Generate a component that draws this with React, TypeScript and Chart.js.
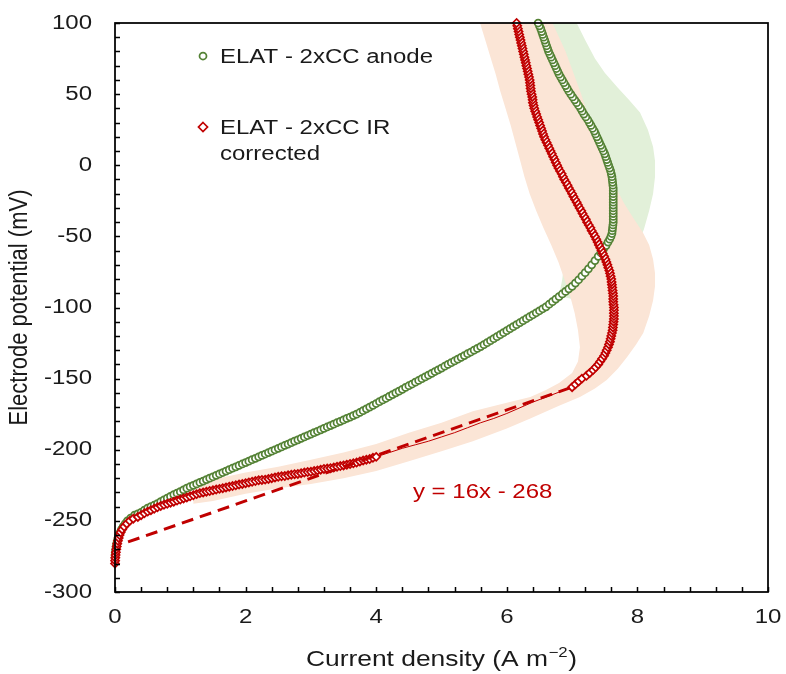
import { useEffect, useRef } from "react";
import { Chart, registerables } from "chart.js";

Chart.register(...registerables);

const FONT = '"Liberation Sans", Arial, sans-serif';
const INK = "#1a1a1a";
const GREEN = "#548235";
const RED = "#C00000";
const GREEN_BAND = "#E2F0D9";
const PINK_BAND = "#FBE5D6";
// all labels are set slightly wide
const TEXT_SX = 1.2;

const X_MIN = 0;
const X_MAX = 10;
const Y_MIN = -300;
const Y_MAX = 100;
const xTickLabels = [0, 2, 4, 6, 8, 10];
const yTickLabels = [100, 50, 0, -50, -100, -150, -200, -250, -300];

// ELAT - 2xCC anode: current density (A m-2) and electrode potential (mV)
const greenJ = [
  0.0, 0.003, 0.007, 0.012, 0.018, 0.025, 0.035, 0.047, 0.06, 0.08, 0.1, 0.125, 0.155, 0.19, 0.24, 0.3, 0.35,
  0.4, 0.45, 0.5, 0.55, 0.6, 0.65, 0.7, 0.75, 0.8, 0.85, 0.9, 0.95, 1.0, 1.05,
  1.1, 1.15, 1.2, 1.25, 1.3, 1.35, 1.4, 1.45, 1.5, 1.55, 1.6, 1.65, 1.7, 1.75, 1.8, 1.85, 1.9, 1.95,
  2.0, 2.05, 2.1, 2.15, 2.2, 2.25, 2.3, 2.35, 2.4, 2.45, 2.5, 2.55, 2.6, 2.65, 2.7, 2.75, 2.8, 2.85, 2.9, 2.95,
  3.0, 3.05, 3.1, 3.15, 3.2, 3.25, 3.3, 3.35, 3.4, 3.45, 3.5, 3.55, 3.6, 3.65, 3.7,
  3.75, 3.8, 3.85, 3.9, 3.95, 4.0, 4.05, 4.1, 4.15, 4.2, 4.25, 4.3, 4.35, 4.4, 4.45, 4.5,
  4.55, 4.6, 4.65, 4.7, 4.75, 4.8, 4.85, 4.9, 4.95, 5.0, 5.05, 5.1, 5.15, 5.2, 5.25, 5.3, 5.35, 5.4, 5.45, 5.5, 5.55, 5.6,
  5.65, 5.7, 5.75, 5.8, 5.85, 5.9, 5.95, 6.0, 6.05, 6.1, 6.15, 6.2, 6.25, 6.3, 6.35, 6.4, 6.45, 6.5, 6.55, 6.6,
  6.65, 6.7, 6.75, 6.8, 6.85, 6.9, 6.95, 7.0,
  7.05, 7.1, 7.15, 7.2, 7.25, 7.3, 7.35, 7.4, 7.44, 7.48,
  7.52, 7.55, 7.575, 7.595, 7.61, 7.615, 7.62, 7.625, 7.63,
  7.63, 7.63, 7.63, 7.63, 7.63, 7.63, 7.63, 7.63, 7.63, 7.63, 7.63, 7.63,
  7.625, 7.62, 7.615, 7.61, 7.6, 7.59, 7.575, 7.56, 7.545, 7.53, 7.515, 7.5, 7.48, 7.46, 7.44, 7.42, 7.4, 7.38,
  7.36, 7.34, 7.315, 7.29, 7.265, 7.24, 7.21, 7.18, 7.155, 7.13, 7.1, 7.07, 7.04, 7.01, 6.98, 6.95, 6.925, 6.9,
  6.875, 6.85, 6.825, 6.8, 6.78, 6.76, 6.74, 6.72, 6.7, 6.68, 6.66, 6.64, 6.625, 6.61, 6.595, 6.58, 6.565, 6.55,
  6.535, 6.52, 6.5, 6.48,
];
const greenE = [
  -276, -274, -272, -270, -268, -266, -264, -262, -260, -258, -256, -254, -252, -250, -248, -246, -245,
  -244, -242.5, -241, -240, -239, -237.8, -236.5, -235.2, -234, -232.8, -231.5, -230.5, -229.5, -228.2,
  -227, -226, -225, -224, -223, -222, -221, -220, -219, -218, -217, -216, -215, -214, -213, -212, -211, -210,
  -209, -208, -207, -206, -205, -204, -203, -202, -201, -200, -199, -198, -197, -196, -195, -194, -193, -192, -191, -190,
  -189, -188, -187, -186, -185, -184, -183, -182, -181, -180, -179, -178, -177, -176, -175,
  -173.8, -172.5, -171.2, -170, -168.8, -167.5, -166.2, -165, -163.8, -162.5, -161.2, -160, -158.8, -157.5, -156.2, -155,
  -153.8, -152.5, -151.3, -150, -148.8, -147.6, -146.3, -145, -143.8, -142.6, -141.3, -140, -138.8, -137.6, -136.3, -135, -133.8, -132.5, -131.3, -130, -128.8, -127.5,
  -126.1, -124.7, -123.3, -121.9, -120.5, -119.1, -117.7, -116.3, -114.9, -113.5, -112.1, -110.7, -109.3, -107.9, -106.5, -105.1, -103.7, -102.3, -100.9, -99.5,
  -97.7, -95.9, -94.1, -92.3, -90.5, -88.7, -86.9, -85.1,
  -82.8, -80.5, -78, -75.5, -72.8, -70, -67, -64, -61.5, -59,
  -56.5, -54, -52, -50, -48, -46, -44, -42, -40,
  -38, -36, -34, -32, -30, -28, -26, -24, -22, -20, -18, -16,
  -14, -12, -10, -8, -6, -4, -2, 0, 2, 4, 6, 8, 10, 12, 14, 16, 18, 20,
  22, 24, 26, 28, 30, 32, 34, 36, 38, 40, 42, 44, 46, 48, 50, 52, 54, 56,
  58, 60, 62, 64, 66, 68, 70, 72, 74, 76, 78, 80, 82, 84, 86, 88, 90, 92,
  94, 96, 98, 100,
];

// ELAT - 2xCC IR corrected, low-potential branch
const redLowJ = [
  0.0, 0.002, 0.005, 0.009, 0.014, 0.02, 0.027, 0.035, 0.045, 0.057, 0.07, 0.087, 0.11, 0.14, 0.18, 0.225, 0.28,
  0.35, 0.4, 0.45, 0.5, 0.55, 0.6, 0.65, 0.7, 0.75, 0.8, 0.85, 0.9, 0.95, 1.0, 1.05, 1.1, 1.15, 1.2, 1.25, 1.3,
  1.35, 1.4, 1.45, 1.5, 1.55, 1.6, 1.65, 1.7, 1.75, 1.8, 1.85, 1.9, 1.95, 2.0, 2.05, 2.1, 2.15, 2.2, 2.25, 2.3,
  2.35, 2.4, 2.45, 2.5, 2.55, 2.6, 2.65, 2.7, 2.75, 2.8, 2.85, 2.9, 2.95, 3.0, 3.05, 3.1, 3.15, 3.2, 3.25, 3.3,
  3.35, 3.4, 3.45, 3.5, 3.55, 3.6, 3.65, 3.7, 3.75, 3.8, 3.85, 3.9, 3.95, 4.0,
];
const redLowE = [
  -280, -278, -276, -274, -272, -270, -268, -266, -264, -262, -260, -258, -256, -254, -252, -250, -248.5,
  -247.2, -246, -244.7, -243.5, -242.5, -241.5, -240.5, -239.5, -238.7, -238, -237.2, -236.5, -235.7, -235, -234.2, -233.5, -232.7, -232, -231.2, -230.5,
  -230, -229.5, -229, -228.5, -228, -227.5, -227, -226.5, -226, -225.5, -225, -224.5, -224, -223.5, -223, -222.5, -222, -221.5, -221.2, -221,
  -220.5, -220, -219.5, -219, -218.7, -218.5, -218, -217.5, -217.2, -217, -216.5, -216, -215.7, -215.5, -215, -214.5, -214, -213.5, -213.2, -213,
  -212.5, -212, -211.5, -211, -210.5, -210, -209.5, -209, -208.2, -207.5, -207, -206.5, -205.7, -205,
];

// IR corrected, section under the linear fit
const redMidJ = [4.0, 4.2, 4.4, 4.6, 4.8, 5.0, 5.2, 5.4, 5.6, 5.8, 6.0, 6.2, 6.4, 6.6, 6.8, 7.0];
const redMidE = [-205, -202, -199, -196.5, -194, -191, -188, -184.5, -181, -178, -174.5, -170.5, -166.5, -163, -159.5, -156];

// IR corrected, upper branch
const redHighJ = [
  7.0, 7.05, 7.1, 7.15, 7.22, 7.27, 7.32, 7.36, 7.4, 7.43, 7.46, 7.49, 7.51, 7.53, 7.55, 7.565, 7.58, 7.59, 7.6,
  7.61, 7.62, 7.625, 7.63, 7.635, 7.64, 7.64, 7.64, 7.64, 7.64, 7.635, 7.63, 7.63, 7.63, 7.625, 7.62, 7.615, 7.61,
  7.605, 7.6, 7.59, 7.58, 7.57, 7.555, 7.54, 7.525, 7.51, 7.49, 7.47, 7.45, 7.43, 7.41, 7.39, 7.37, 7.35, 7.325,
  7.3, 7.28, 7.255, 7.23, 7.21, 7.185, 7.16, 7.14, 7.115, 7.09, 7.07, 7.045, 7.02, 7.0, 6.975, 6.95, 6.93, 6.905,
  6.88, 6.86, 6.84, 6.815, 6.79, 6.77, 6.75, 6.73, 6.71, 6.69, 6.67, 6.65, 6.63, 6.61, 6.59, 6.57, 6.555, 6.54,
  6.525, 6.51, 6.495, 6.48, 6.465, 6.45, 6.435, 6.42, 6.41, 6.4, 6.395, 6.39, 6.38, 6.37, 6.365, 6.36, 6.355, 6.35,
  6.34, 6.33, 6.32, 6.31, 6.3, 6.29, 6.28, 6.27, 6.26, 6.25, 6.24, 6.23, 6.22, 6.21, 6.2, 6.19, 6.18, 6.17, 6.16, 6.15,
];
const redHighE = [
  -156, -154, -152, -150, -148, -146, -144, -142, -140, -138, -136, -134, -132, -130, -128, -126, -124, -122, -120,
  -118, -116, -114, -112, -110, -108, -106, -104, -102, -100, -98, -96, -94, -92, -90, -88, -86, -84,
  -82, -80, -78, -76, -74, -72, -70, -68, -66, -64, -62, -60, -58, -56, -54, -52, -50, -48,
  -46, -44, -42, -40, -38, -36, -34, -32, -30, -28, -26, -24, -22, -20, -18, -16, -14, -12,
  -10, -8, -6, -4, -2, 0, 2, 4, 6, 8, 10, 12, 14, 16, 18, 20, 22, 24,
  26, 28, 30, 32, 34, 36, 38, 40, 42, 44, 46, 48, 50, 52, 54, 56, 58, 60,
  62, 64, 66, 68, 70, 72, 74, 76, 78, 80, 82, 84, 86, 88, 90, 92, 94, 96, 98, 100,
];

// Spread between replicates (outline of the shaded region)
const greenBandJ = [
  7.07, 7.2, 7.35, 7.5, 7.69, 7.87, 8.04, 8.16, 8.24, 8.27, 8.27, 8.24, 8.18, 8.1, 7.98, 7.8, 7.5, 7.1,
  6.8, 6.85, 6.9, 6.95, 6.9, 6.8, 6.6, 6.3, 6.1, 5.9,
];
const greenBandE = [
  100, 88, 75, 65, 55, 46, 37, 25, 13, 3, -8, -20, -32, -45, -58, -70, -85, -95,
  -92, -80, -60, -40, -20, 0, 25, 50, 75, 100,
];

const pinkBandJ = [
  5.59, 5.67, 5.75, 5.83, 5.9, 5.98, 6.06, 6.13, 6.2, 6.27, 6.35, 6.45, 6.56, 6.68, 6.79, 6.88, 6.97, 7.04, 7.09, 7.12,
  7.09, 7.0, 6.8, 6.6,
  6.36, 6.0, 5.48, 5.0, 4.5, 4.0, 3.5, 3.0, 2.5, 2.0, 1.5, 1.2,
  1.2, 1.5, 2.0, 2.5, 3.0, 3.5, 4.0, 4.5, 5.0, 5.48, 6.0, 6.36, 6.8, 7.12,
  7.35, 7.53, 7.7, 7.84, 7.98, 8.09, 8.18, 8.24, 8.27, 8.27, 8.24, 8.18, 8.08, 7.95, 7.8, 7.65,
  7.5, 7.42, 7.35, 7.28, 7.21, 7.14, 7.06, 6.98, 6.9, 6.8, 6.7,
];
const pinkBandE = [
  100, 88, 76, 64, 52, 40, 28, 16, 4, -8, -20, -32, -44, -56, -68, -80, -92, -104, -116, -128,
  -138, -146, -153, -158,
  -163, -167, -173, -181, -188, -196, -202, -207, -212, -216, -221, -224,
  -238, -236, -231, -227, -224, -220, -215, -208, -201, -194, -185, -178, -169, -163,
  -157, -151, -143, -135, -126, -118, -106, -95, -85, -76, -66, -56, -47, -38, -27, -14,
  0, 10, 20, 30, 40, 50, 60, 70, 80, 90, 100,
];

// Linear fit over the IR corrected data
const FIT_SLOPE = 16;
const FIT_INTERCEPT = -268;
const fitJ = [0.2, 7.0];

const seriesNames = ["ELAT - 2xCC anode", "ELAT - 2xCC IR", "corrected"];
const fitLabel = "y = 16x - 268";
const yTitle = "Electrode potential (mV)";
const xTitleParts = ["Current density (A m", "\u22122", ")"];

const toPoints = (xs: number[], ys: number[]) => xs.map((x, i) => ({ x, y: ys[i] }));

function wideText(
  ctx: CanvasRenderingContext2D,
  text: string,
  x: number,
  y: number,
  size: number,
  color: string,
  align: CanvasTextAlign,
  rotate = false
) {
  ctx.save();
  ctx.translate(x, y);
  ctx.scale(TEXT_SX, 1);
  if (rotate) ctx.rotate(-Math.PI / 2);
  ctx.font = `${size}px ${FONT}`;
  ctx.fillStyle = color;
  ctx.textAlign = align;
  ctx.textBaseline = "middle";
  ctx.fillText(text, 0, 0);
  ctx.restore();
}

const bandsPlugin = {
  id: "replicateBands",
  beforeDatasetsDraw(chart: any) {
    const { ctx, chartArea, scales } = chart;
    const bands: [number[], number[], string][] = [
      [greenBandJ, greenBandE, GREEN_BAND],
      [pinkBandJ, pinkBandE, PINK_BAND],
    ];
    ctx.save();
    ctx.beginPath();
    ctx.rect(chartArea.left, chartArea.top, chartArea.right - chartArea.left, chartArea.bottom - chartArea.top);
    ctx.clip();
    ctx.lineJoin = "round";
    for (const [js, es, color] of bands) {
      ctx.beginPath();
      js.forEach((j, i) => {
        const px = scales.x.getPixelForValue(j);
        const py = scales.y.getPixelForValue(es[i]);
        if (i === 0) ctx.moveTo(px, py);
        else ctx.lineTo(px, py);
      });
      ctx.closePath();
      ctx.fillStyle = color;
      ctx.fill();
    }
    ctx.restore();
  },
};

const framePlugin = {
  id: "frameAndKey",
  afterDatasetsDraw(chart: any) {
    const { ctx, chartArea: a, scales } = chart;
    ctx.save();
    // inward tick marks
    ctx.strokeStyle = "#000";
    ctx.lineWidth = 1.5;
    ctx.beginPath();
    for (let v = Y_MIN; v <= Y_MAX; v += 10) {
      const py = Math.round(scales.y.getPixelForValue(v)) + 0.5;
      ctx.moveTo(a.left, py);
      ctx.lineTo(a.left + 5, py);
    }
    for (let k = 0; k <= 25; k++) {
      const px = Math.round(scales.x.getPixelForValue(k * 0.4)) + 0.5;
      ctx.moveTo(px, a.bottom);
      ctx.lineTo(px, a.bottom - 5);
    }
    ctx.stroke();
    // plot frame
    ctx.lineWidth = 1.75;
    ctx.strokeRect(a.left, a.top, a.right - a.left, a.bottom - a.top);
    ctx.restore();

    // tick labels
    for (const v of yTickLabels) {
      wideText(ctx, String(v), a.left - 23, scales.y.getPixelForValue(v), 20, INK, "right");
    }
    for (const v of xTickLabels) {
      wideText(ctx, String(v), scales.x.getPixelForValue(v), a.bottom + 25, 20, INK, "center");
    }

    // axis titles
    wideText(ctx, yTitle, 20, (a.top + a.bottom) / 2, 22, INK, "center", true);
    ctx.save();
    const cx = (a.left + a.right) / 2;
    const ty = a.bottom + 68;
    ctx.translate(cx, ty);
    ctx.scale(TEXT_SX, 1);
    ctx.fillStyle = INK;
    ctx.textBaseline = "middle";
    ctx.textAlign = "left";
    ctx.font = `22px ${FONT}`;
    const w0 = ctx.measureText(xTitleParts[0]).width;
    const w2 = ctx.measureText(xTitleParts[2]).width;
    ctx.font = `14px ${FONT}`;
    const w1 = ctx.measureText(xTitleParts[1]).width;
    let tx = -(w0 + w1 + w2 + 1) / 2;
    ctx.font = `22px ${FONT}`;
    ctx.fillText(xTitleParts[0], tx, 0);
    tx += w0 + 0.5;
    ctx.font = `14px ${FONT}`;
    ctx.fillText(xTitleParts[1], tx, -7);
    tx += w1 + 0.5;
    ctx.font = `22px ${FONT}`;
    ctx.fillText(xTitleParts[2], tx, 0);
    ctx.restore();

    // series key
    ctx.save();
    const kx = a.left + 88;
    const gy = a.top + 33;
    const dy = a.top + 104;
    ctx.lineWidth = 1.75;
    ctx.fillStyle = "#fff";
    ctx.strokeStyle = GREEN;
    ctx.beginPath();
    ctx.arc(kx, gy, 3.5, 0, Math.PI * 2);
    ctx.fill();
    ctx.stroke();
    ctx.strokeStyle = RED;
    ctx.beginPath();
    ctx.moveTo(kx, dy - 4.5);
    ctx.lineTo(kx + 4.5, dy);
    ctx.lineTo(kx, dy + 4.5);
    ctx.lineTo(kx - 4.5, dy);
    ctx.closePath();
    ctx.fill();
    ctx.stroke();
    ctx.restore();
    wideText(ctx, seriesNames[0], kx + 17, gy + 1, 20, INK, "left");
    wideText(ctx, seriesNames[1], kx + 17, dy + 1, 20, INK, "left");
    wideText(ctx, seriesNames[2], kx + 17, dy + 27, 20, INK, "left");

    // fit equation
    wideText(ctx, fitLabel, scales.x.getPixelForValue(5.63), scales.y.getPixelForValue(-230), 20, RED, "center");
  },
};

export default function App() {
  const canvasRef = useRef<HTMLCanvasElement | null>(null);

  useEffect(() => {
    const canvas = canvasRef.current;
    if (!canvas) return;
    const markerBase = { backgroundColor: "#fff", pointBorderWidth: 1.75, clip: false as const };
    const chart = new Chart(canvas, {
      type: "scatter",
      data: {
        datasets: [
          {
            label: "Linear fit",
            data: fitJ.map((j) => ({ x: j, y: FIT_SLOPE * j + FIT_INTERCEPT })),
            showLine: true,
            borderColor: RED,
            borderWidth: 3,
            borderDash: [12, 7],
            pointRadius: 0,
            order: 0,
            clip: false,
          },
          {
            label: "ELAT - 2xCC IR corrected",
            data: toPoints(redLowJ, redLowE),
            pointStyle: "rectRot",
            pointRadius: 4,
            borderColor: RED,
            order: 1,
            ...markerBase,
          },
          {
            label: "ELAT - 2xCC IR corrected (upper)",
            data: toPoints(redHighJ, redHighE),
            pointStyle: "rectRot",
            pointRadius: 4,
            borderColor: RED,
            order: 2,
            ...markerBase,
          },
          {
            label: "ELAT - 2xCC IR corrected (mid)",
            data: toPoints(redMidJ, redMidE),
            showLine: true,
            borderColor: RED,
            borderWidth: 1,
            pointRadius: 0,
            order: 3,
            clip: false,
          },
          {
            label: "ELAT - 2xCC anode",
            data: toPoints(greenJ, greenE),
            pointStyle: "circle",
            pointRadius: 3.5,
            borderColor: GREEN,
            order: 4,
            ...markerBase,
          },
        ],
      },
      options: {
        animation: false,
        responsive: true,
        maintainAspectRatio: false,
        layout: { padding: { top: 23, right: 18, left: 0, bottom: 0 } },
        plugins: { legend: { display: false }, tooltip: { enabled: false } },
        scales: {
          x: {
            type: "linear",
            min: X_MIN,
            max: X_MAX,
            ticks: { display: false, stepSize: 2 },
            grid: { display: false, drawTicks: false },
            border: { display: false },
            title: { display: false },
            afterFit: (s: any) => {
              s.height = 82;
            },
          },
          y: {
            type: "linear",
            min: Y_MIN,
            max: Y_MAX,
            ticks: { display: false, stepSize: 50 },
            grid: { display: false, drawTicks: false },
            border: { display: false },
            title: { display: false },
            afterFit: (s: any) => {
              s.width = 115;
            },
          },
        },
      },
      plugins: [bandsPlugin, framePlugin],
    });
    return () => chart.destroy();
  }, []);

  return (
    <div style={{ position: "fixed", left: 0, top: 0, width: 786, height: 674, background: "#fff" }}>
      <canvas ref={canvasRef} />
    </div>
  );
}
